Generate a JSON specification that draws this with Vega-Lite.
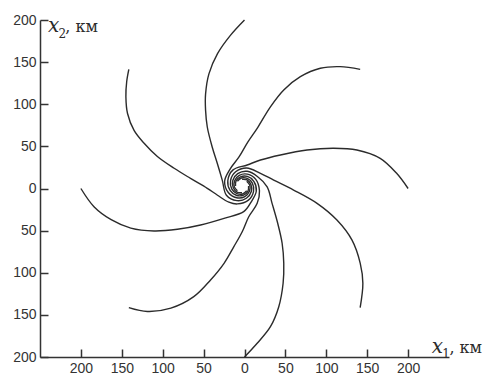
{
  "$schema": "https://vega.github.io/schema/vega-lite/v6.json",
  "width": 409,
  "height": 337,
  "autosize": {"type": "none"},
  "padding": {"left": 40, "top": 20, "right": 54, "bottom": 19},
  "background": "white",
  "config": {
    "view": {"stroke": null},
    "axis": {
      "grid": false,
      "domainColor": "#333333",
      "domainWidth": 1.5,
      "tickColor": "#333333",
      "tickWidth": 1.5,
      "tickSize": -8,
      "labelPadding": 12,
      "labelFont": "Liberation Sans",
      "labelFontSize": 14,
      "labelColor": "#333333"
    }
  },
  "datasets": {
    "curves": [
      {"c":1,"i":0,"x":0,"y":200},{"c":1,"i":1,"x":-17,"y":182},{"c":1,"i":2,"x":-33,"y":160},{"c":1,"i":3,"x":-43.5,"y":136},{"c":1,"i":4,"x":-47.6,"y":112},{"c":1,"i":5,"x":-47.6,"y":93},{"c":1,"i":6,"x":-45.5,"y":73},{"c":1,"i":7,"x":-39.4,"y":49},{"c":1,"i":8,"x":-33.3,"y":30},{"c":1,"i":9,"x":-27.2,"y":10},{"c":1,"i":10,"x":-22.1,"y":-8},{"c":1,"i":11,"x":-9.3,"y":-14.4},{"c":1,"i":12,"x":2.3,"y":-11.6},{"c":1,"i":13,"x":8.3,"y":-3.5},{"c":1,"i":14,"x":7.8,"y":4.9},{"c":1,"i":15,"x":3.1,"y":10.3},{"c":1,"i":16,"x":-3,"y":11},
      {"c":2,"i":0,"x":-141.4,"y":141.4},{"c":2,"i":1,"x":-144,"y":127},{"c":2,"i":2,"x":-145,"y":109},{"c":2,"i":3,"x":-143,"y":89},{"c":2,"i":4,"x":-135,"y":69},{"c":2,"i":5,"x":-123,"y":54},{"c":2,"i":6,"x":-106.5,"y":38},{"c":2,"i":7,"x":-86,"y":24},{"c":2,"i":8,"x":-66,"y":12},{"c":2,"i":9,"x":-45.5,"y":0.2},{"c":2,"i":10,"x":-33,"y":-8},{"c":2,"i":11,"x":-19.1,"y":-16.2},{"c":2,"i":12,"x":-8.7,"y":-18.3},{"c":2,"i":13,"x":4.8,"y":-13.8},{"c":2,"i":14,"x":11,"y":-3.6},{"c":2,"i":15,"x":9.6,"y":6.4},{"c":2,"i":16,"x":3.3,"y":12},{"c":2,"i":17,"x":-3.8,"y":12.5},{"c":2,"i":18,"x":-8.7,"y":8.7},
      {"c":3,"i":0,"x":-200,"y":0},{"c":3,"i":1,"x":-184,"y":-21.6},{"c":3,"i":2,"x":-163,"y":-37},{"c":3,"i":3,"x":-139,"y":-47},{"c":3,"i":4,"x":-110.6,"y":-50.4},{"c":3,"i":5,"x":-82,"y":-48.4},{"c":3,"i":6,"x":-53.7,"y":-43.3},{"c":3,"i":7,"x":-25,"y":-35.4},{"c":3,"i":8,"x":-1,"y":-27.5},{"c":3,"i":9,"x":8,"y":-16.1},{"c":3,"i":10,"x":14.4,"y":-3.3},{"c":3,"i":11,"x":11.6,"y":8.3},{"c":3,"i":12,"x":3.5,"y":14.3},{"c":3,"i":13,"x":-4.9,"y":13.8},{"c":3,"i":14,"x":-10.3,"y":9.1},{"c":3,"i":15,"x":-11,"y":3},
      {"c":4,"i":0,"x":-141.4,"y":-141.4},{"c":4,"i":1,"x":-118.7,"y":-146},{"c":4,"i":2,"x":-90,"y":-142},{"c":4,"i":3,"x":-62,"y":-128.4},{"c":4,"i":4,"x":-41.5,"y":-108.6},{"c":4,"i":5,"x":-25,"y":-88.8},{"c":4,"i":6,"x":-13,"y":-69},{"c":4,"i":7,"x":-2.8,"y":-51.3},{"c":4,"i":8,"x":5.2,"y":-33.5},{"c":4,"i":9,"x":15.5,"y":-17.6},{"c":4,"i":10,"x":18.3,"y":-2.7},{"c":4,"i":11,"x":13.8,"y":10.8},{"c":4,"i":12,"x":3.6,"y":17},{"c":4,"i":13,"x":-6.4,"y":15.6},{"c":4,"i":14,"x":-12,"y":9.3},{"c":4,"i":15,"x":-12.5,"y":2.2},{"c":4,"i":16,"x":-8.7,"y":-2.7},
      {"c":5,"i":0,"x":0,"y":-200},{"c":5,"i":1,"x":15.5,"y":-183.7},{"c":5,"i":2,"x":31.7,"y":-164},{"c":5,"i":3,"x":41.9,"y":-140.3},{"c":5,"i":4,"x":47.2,"y":-112.5},{"c":5,"i":5,"x":48,"y":-88.8},{"c":5,"i":6,"x":46,"y":-65},{"c":5,"i":7,"x":40.6,"y":-41.3},{"c":5,"i":8,"x":33.7,"y":-17.6},{"c":5,"i":9,"x":27.7,"y":2},{"c":5,"i":10,"x":16.1,"y":14},{"c":5,"i":11,"x":3.3,"y":20.4},{"c":5,"i":12,"x":-8.3,"y":17.6},{"c":5,"i":13,"x":-14.3,"y":9.5},{"c":5,"i":14,"x":-13.8,"y":1.1},{"c":5,"i":15,"x":-9.1,"y":-4.3},{"c":5,"i":16,"x":-3,"y":-5},
      {"c":6,"i":0,"x":141.4,"y":-141.4},{"c":6,"i":1,"x":144.7,"y":-112.5},{"c":6,"i":2,"x":141.5,"y":-88.8},{"c":6,"i":3,"x":131.3,"y":-61},{"c":6,"i":4,"x":113,"y":-37.4},{"c":6,"i":5,"x":88.7,"y":-17.6},{"c":6,"i":6,"x":60,"y":-1.8},{"c":6,"i":7,"x":35.7,"y":10},{"c":6,"i":8,"x":19.5,"y":18},{"c":6,"i":9,"x":2.7,"y":24.3},{"c":6,"i":10,"x":-10.8,"y":19.8},{"c":6,"i":11,"x":-17,"y":9.6},{"c":6,"i":12,"x":-15.6,"y":-0.4},{"c":6,"i":13,"x":-9.3,"y":-6},{"c":6,"i":14,"x":-2.2,"y":-6.5},{"c":6,"i":15,"x":2.7,"y":-2.7},
      {"c":7,"i":0,"x":200,"y":0},{"c":7,"i":1,"x":186,"y":18},{"c":7,"i":2,"x":165.9,"y":35.8},{"c":7,"i":3,"x":137.4,"y":45.7},{"c":7,"i":4,"x":108.9,"y":47.7},{"c":7,"i":5,"x":76.5,"y":45.7},{"c":7,"i":6,"x":43.9,"y":39.8},{"c":7,"i":7,"x":19.5,"y":33.8},{"c":7,"i":8,"x":3.3,"y":27.9},{"c":7,"i":9,"x":-14,"y":22.1},{"c":7,"i":10,"x":-20.4,"y":9.3},{"c":7,"i":11,"x":-17.6,"y":-2.3},{"c":7,"i":12,"x":-9.5,"y":-8.3},{"c":7,"i":13,"x":-1.1,"y":-7.8},{"c":7,"i":14,"x":4.3,"y":-3.1},{"c":7,"i":15,"x":5,"y":3},
      {"c":8,"i":0,"x":141.4,"y":141.4},{"c":8,"i":1,"x":117,"y":144.6},{"c":8,"i":2,"x":92.7,"y":142.7},{"c":8,"i":3,"x":68.3,"y":132.7},{"c":8,"i":4,"x":48,"y":117},{"c":8,"i":5,"x":31.7,"y":97},{"c":8,"i":6,"x":15.5,"y":71.5},{"c":8,"i":7,"x":4,"y":55},{"c":8,"i":8,"x":-6.5,"y":37.7},{"c":8,"i":9,"x":-18,"y":22.5},{"c":8,"i":10,"x":-24.3,"y":8.7},{"c":8,"i":11,"x":-19.8,"y":-4.8},{"c":8,"i":12,"x":-9.6,"y":-11},{"c":8,"i":13,"x":0.4,"y":-9.6},{"c":8,"i":14,"x":6,"y":-3.3},{"c":8,"i":15,"x":6.5,"y":3.8},{"c":8,"i":16,"x":2.7,"y":8.7}
    ],
    "titles": [
      {"k":"var","x":-240.2,"y":185.2,"t":"x"},
      {"k":"sub","x":-227.5,"y":178.5,"t":"2"},
      {"k":"unit","x":-219,"y":185.2,"t":", км"},
      {"k":"var","x":229,"y":-195.3,"t":"x"},
      {"k":"sub","x":241.8,"y":-201.5,"t":"1"},
      {"k":"unit","x":250.5,"y":-195.3,"t":", км"}
    ]
  },
  "layer": [
    {
      "data": {"name": "curves"},
      "mark": {"type": "line", "interpolate": "catmull-rom", "color": "#2b2b2b", "strokeWidth": 1.4},
      "encoding": {
        "x": {"field": "x", "type": "quantitative", "scale": {"domain": [-250, 250], "nice": false, "zero": false},
              "axis": {"title": null, "values": [-200, -150, -100, -50, 0, 50, 100, 150, 200], "labelExpr": "abs(datum.value)"}},
        "y": {"field": "y", "type": "quantitative", "scale": {"domain": [-200, 200], "nice": false, "zero": false},
              "axis": {"title": null, "values": [-200, -150, -100, -50, 0, 50, 100, 150, 200], "labelExpr": "abs(datum.value)"}},
        "detail": {"field": "c", "type": "nominal"},
        "order": {"field": "i", "type": "quantitative"}
      }
    },
    {
      "data": {"name": "titles"},
      "transform": [{"filter": "datum.k === 'var'"}],
      "mark": {"type": "text", "font": "DejaVu Serif", "fontStyle": "italic", "fontSize": 20, "align": "left", "baseline": "alphabetic", "color": "#2b2b2b"},
      "encoding": {
        "x": {"field": "x", "type": "quantitative"},
        "y": {"field": "y", "type": "quantitative"},
        "text": {"field": "t"}
      }
    },
    {
      "data": {"name": "titles"},
      "transform": [{"filter": "datum.k === 'sub'"}],
      "mark": {"type": "text", "font": "DejaVu Serif", "fontSize": 12, "align": "left", "baseline": "alphabetic", "color": "#2b2b2b"},
      "encoding": {
        "x": {"field": "x", "type": "quantitative"},
        "y": {"field": "y", "type": "quantitative"},
        "text": {"field": "t"}
      }
    },
    {
      "data": {"name": "titles"},
      "transform": [{"filter": "datum.k === 'unit'"}],
      "mark": {"type": "text", "font": "DejaVu Serif", "fontSize": 16, "align": "left", "baseline": "alphabetic", "color": "#2b2b2b"},
      "encoding": {
        "x": {"field": "x", "type": "quantitative"},
        "y": {"field": "y", "type": "quantitative"},
        "text": {"field": "t"}
      }
    }
  ]
}
